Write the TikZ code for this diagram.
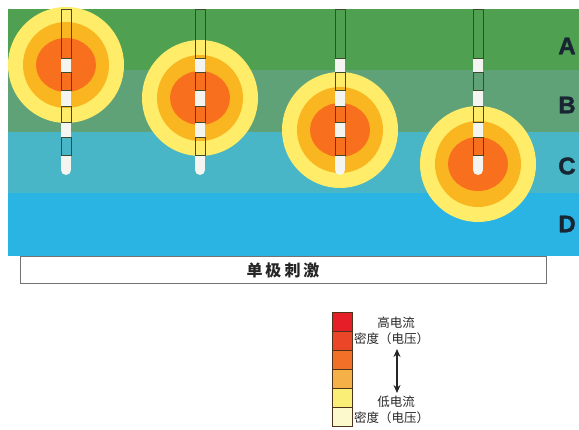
\documentclass[tikz,border=0pt]{standalone}
\usepackage{fontspec}
\setmainfont{Liberation Sans}
\newfontfamily\cjk{Noto Sans CJK SC}
\newfontfamily\heavy[FakeBold=1.6]{Liberation Sans Bold}
\usepackage{tikz}
\usetikzlibrary{positioning,arrows.meta}

\definecolor{layerA}{RGB}{80,160,82}
\definecolor{layerB}{RGB}{96,162,120}
\definecolor{layerC}{RGB}{72,182,198}
\definecolor{layerD}{RGB}{42,180,228}
\definecolor{fieldlow}{RGB}{255,236,104}
\definecolor{fieldmid}{RGB}{250,182,32}
\definecolor{fieldhigh}{RGB}{248,112,30}
\definecolor{leadline}{RGB}{62,74,44}
\definecolor{padwhite}{RGB}{244,244,240}
\definecolor{inktext}{RGB}{24,38,52}
\definecolor{lvlA}{RGB}{230,30,40}
\definecolor{lvlB}{RGB}{236,70,40}
\definecolor{lvlC}{RGB}{242,112,40}
\definecolor{lvlD}{RGB}{246,176,72}
\definecolor{lvlE}{RGB}{250,238,118}
\definecolor{lvlF}{RGB}{252,250,204}

\begin{document}
\begin{tikzpicture}[x=1pt,y=-1pt,
						layerlabel/.style={font=\heavy\fontsize{24}{24}\selectfont, text=inktext},
						legendtext/.style={font=\cjk\fontsize{12.5}{13}\selectfont, text=black!85, inner sep=0pt},
						leadbox/.style={draw=leadline, line width=0.9pt},
						pad/.style={fill=padwhite},
						levelcell/.style={draw=black!60!brown, line width=0.6pt},
						]
						\useasboundingbox (0,0) rectangle (579,430);

						%Layers
						\fill[layerA] (8,9)   rectangle (579,70);
						\fill[layerB] (8,70)  rectangle (579,132);
						\fill[layerC] (8,132) rectangle (579,193);
						\fill[layerD] (8,193) rectangle (579,256);
						\node[layerlabel] (lA) at (567,46)  {A};
						\node[layerlabel] (lB) at (567,105) {B};
						\node[layerlabel] (lC) at (567,166) {C};
						\node[layerlabel] (lD) at (567,224) {D};

						%Fields round the active contact
						\foreach \lx/\cy in {66/65, 200/98, 340/130, 478/164}{
							\fill[fieldlow]  (\lx,\cy) circle (58);
							\fill[fieldmid]  (\lx,\cy) circle (43);
							\fill[fieldhigh] (\lx,\cy) ellipse (30 and 27);
						}

						%Leads
						\foreach \lx in {66,200,340,478}{
							\fill[pad] (\lx-5,58)  rectangle (\lx+5,72);
							\fill[pad] (\lx-5,90)  rectangle (\lx+5,106);
							\fill[pad] (\lx-5,122) rectangle (\lx+5,137);
							\fill[pad] (\lx-5,155) rectangle (\lx+5,170);
							\fill[pad] (\lx,170) circle (5);
							\draw[leadbox] (\lx-5,9)   rectangle (\lx+5,58);
							\draw[leadbox] (\lx-5,72)  rectangle (\lx+5,90);
							\draw[leadbox] (\lx-5,106) rectangle (\lx+5,122);
							\draw[leadbox] (\lx-5,137) rectangle (\lx+5,155);
						}

						%Caption box
						\node[draw=black!55, line width=0.6pt, minimum width=526, minimum height=27, inner sep=0pt,
							font=\cjk\bfseries\fontsize{16}{16}\selectfont, text=black!85]
							(mode) at (283,270) {单\hspace{3pt}极\hspace{3pt}刺\hspace{3pt}激};

						%Legend
						\fill[lvlA] (332,312) rectangle (352,331);
						\fill[lvlB] (332,331) rectangle (352,350);
						\fill[lvlC] (332,350) rectangle (352,369);
						\fill[lvlD] (332,369) rectangle (352,388);
						\fill[lvlE] (332,388) rectangle (352,407);
						\fill[lvlF] (332,407) rectangle (352,426);
						\foreach \y in {312,331,350,369,388,407}
							\draw[levelcell] (332,\y) rectangle (352,\y+19);

						\node[legendtext] (hi1) at (396,323) {高电流};
						\node[legendtext, anchor=west] (hi2) at (354,339) {密度（电压）};
						\node[legendtext] (lo1) at (396,402) {低电流};
						\node[legendtext, anchor=west] (lo2) at (354,418) {密度（电压）};
						\coordinate (up) at (397,349);
						\coordinate (dn) at (397,393);
						\draw[black!85, line width=1.4pt, {Stealth[length=8pt,width=7pt]}-{Stealth[length=8pt,width=7pt]}] (up) -- (dn);
					\end{tikzpicture}
\end{document}
